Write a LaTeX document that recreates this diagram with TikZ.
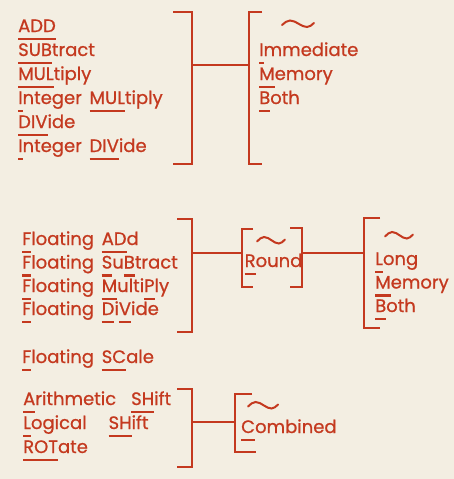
\documentclass[tikz,border=0pt]{standalone}
\usepackage{fontspec}
\newfontfamily\futfont{Poppins}[FakeBold=0.8, WordSpace=1.6]
\usetikzlibrary{positioning}
\definecolor{inkred}{HTML}{C4391F}
\definecolor{paper}{HTML}{F3EEE2}
\newsavebox\ubbox
% bar under the letters that make up the mnemonic
\newcommand{\ub}[1]{\sbox\ubbox{#1}\rlap{\rule[-8pt]{\wd\ubbox}{2.2pt}}\usebox\ubbox}

\begin{document}
\begin{tikzpicture}[
    x=1pt, y=-1pt,
    row/.style={anchor=base west, inner sep=0pt, text=inkred, font=\futfont\fontsize{18}{20}\selectfont},
    brk/.style={draw=inkred, line width=1.9pt},
    link/.style={draw=inkred, line width=1.5pt},
    wave/.style={draw=inkred, line width=2pt, line cap=round},
    tildemark/.pic={\draw[wave] (0,1) sin (8,-3.5) cos (17,0) sin (25,3) cos (32,-1);},
]
\fill[paper] (0,0) rectangle (454,479);
\useasboundingbox (0,0) rectangle (454,479);

% Fixed point arithmetic
\node[row] (add)  at (18,32)  {\ub{ADD}};
\node[row] (sub)  at (18,56)  {\ub{SUB}tract};
\node[row] (mul)  at (18,80)  {\ub{MUL}tiply};
\node[row] (imul) at (18,104) {\ub{I}nteger \ub{MUL}tiply};
\node[row] (div)  at (18,128) {\ub{DIV}ide};
\node[row] (idiv) at (18,152) {\ub{I}nteger \ub{DIV}ide};
\draw[brk] (173,12) -| (192,164) -- (173,164);
\coordinate (arith-r) at (192,65);

% Operand modes
\pic at (282,24) {tildemark};
\node[row] (imm)  at (259,56)  {\ub{I}mmediate};
\node[row] (mem)  at (259,80)  {\ub{M}emory};
\node[row] (both) at (259,104) {\ub{B}oth};
\draw[brk] (262,12) -| (249,164) -- (262,164);
\coordinate (mode-l) at (249,65);

\draw[link] (arith-r) -- (mode-l);

% Floating point arithmetic
\node[row] (fadd) at (22,245)   {\ub{F}loating \ub{AD}d};
\node[row] (fsub) at (22,268.5) {\ub{F}loating \ub{S}u\ub{B}tract};
\node[row] (fmul) at (22,292)   {\ub{F}loating \ub{M}ulti\ub{P}ly};
\node[row] (fdiv) at (22,315)   {\ub{F}loating \ub{D}i\ub{V}ide};
\draw[brk] (177,219) -| (192,332) -- (177,332);
\coordinate (float-r) at (192,253);

% Rounding
\pic[xscale=0.875] at (257,240.5) {tildemark};
\node[row] (round) at (244.5,267) {\ub{R}ound};
\draw[brk] (253,229) -| (242,287) -- (253,287);
\draw[brk] (290,228) -| (302,287) -- (290,287);
\coordinate (round-l) at (242,253);
\coordinate (round-r) at (302,253);

% Precision / operand
\pic[xscale=0.875] at (385,235.5) {tildemark};
\node[row] (long)  at (375,265)   {\ub{L}ong};
\node[row] (mem2)  at (375,288.5) {\ub{M}emory};
\node[row] (both2) at (375,312)   {\ub{B}oth};
\draw[brk] (380,218) -| (364,328) -- (380,328);
\coordinate (prec-l) at (364,253);

\draw[link] (float-r) -- (round-l);
\draw[link] (round-r) -- (prec-l);

% Scale
\node[row] (fsc) at (22,363) {\ub{F}loating \ub{SC}ale};

% Shifts
\node[row] (ash) at (23,405) {\ub{A}rithmetic\hspace{15pt}\ub{SH}ift};
\node[row] (lsh) at (23,429) {\ub{L}ogical\hspace{22pt}\ub{SH}ift};
\node[row] (rot) at (23,453) {\ub{ROT}ate};
\draw[brk] (177,389) -| (192,467) -- (177,467);
\coordinate (shift-r) at (192,422);

\pic[xscale=0.94] at (248,405.5) {tildemark};
\node[row] (comb) at (241,433) {\ub{C}ombined};
\draw[brk] (252,394) -| (235,452) -- (256,452);
\coordinate (comb-l) at (235,422);

\draw[link] (shift-r) -- (comb-l);
\end{tikzpicture}
\end{document}
